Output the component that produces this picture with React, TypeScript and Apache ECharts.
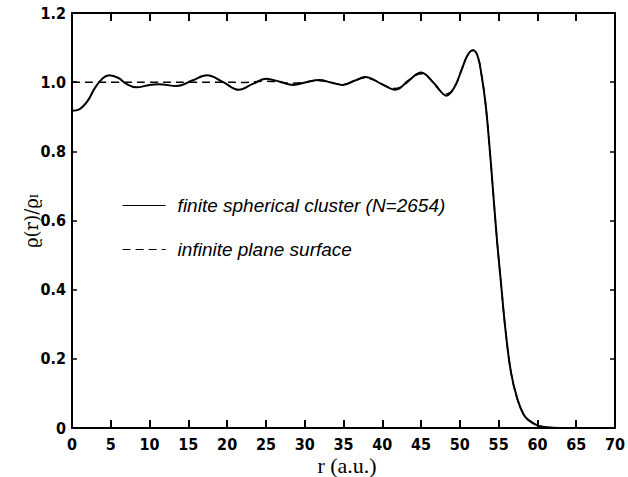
import React, { useEffect, useRef } from "react";
import * as echarts from "echarts";

const rFinite = [0, 1, 2, 3, 4, 4.8, 6, 7, 8.3, 10, 11.2, 13.5, 15.5, 17.4, 19.5, 21.5, 23.3, 25, 26.8, 28.5, 30.2, 31.9, 33.4, 34.9, 36.4, 37.8, 39.8, 41.7, 43.4, 45, 46.7, 48.3, 49.3, 50.3, 51.0, 51.7, 52.3, 52.8, 53.3, 53.8, 54.3, 54.8, 55.3, 55.9, 56.6, 57.4, 58.2, 58.9, 60.2, 62, 64, 70];
const gFinite = [0.917, 0.922, 0.945, 0.985, 1.012, 1.02, 1.012, 0.995, 0.985, 0.992, 0.994, 0.989, 1.005, 1.02, 1.0, 0.978, 0.995, 1.01, 1.001, 0.992, 1.0, 1.006, 0.999, 0.992, 1.004, 1.015, 0.996, 0.978, 1.005, 1.028, 0.996, 0.961, 0.985, 1.04, 1.078, 1.092, 1.075, 1.02, 0.94, 0.82, 0.68, 0.54, 0.42, 0.28, 0.16, 0.085, 0.04, 0.022, 0.006, 0.001, 0, 0];

const rPlane = [0, 5, 10, 15, 20, 22, 25, 28.5, 31.9, 34.9, 37.8, 41.7, 45, 48.3, 49.3, 50.3, 51.0, 51.7, 52.3, 52.8, 53.3, 53.8, 54.3, 54.8, 55.3, 55.9, 56.6, 57.4, 58.2, 58.9, 60.2, 62, 64, 70];
const gPlane = [1.0, 1.0, 1.0, 1.0, 1.0, 0.999, 1.003, 0.997, 1.004, 0.994, 1.012, 0.982, 1.024, 0.966, 0.985, 1.04, 1.078, 1.092, 1.075, 1.02, 0.94, 0.82, 0.68, 0.54, 0.42, 0.28, 0.16, 0.085, 0.04, 0.022, 0.006, 0.001, 0, 0];

const seriesNames = ["finite spherical cluster (N=2654)", "infinite plane surface"];
const xTitle = "r (a.u.)";

const labelFont = {
  fontFamily: "'Liberation Sans Narrow', 'Arial Narrow', 'DejaVu Sans Condensed', sans-serif",
  fontWeight: "bold" as const,
  fontSize: 16,
  color: "#000",
};

export default function App() {
  const ref = useRef<HTMLDivElement>(null);
  useEffect(() => {
    document.body.style.margin = "0";
    if (!ref.current) return;
    const chart = echarts.init(ref.current, undefined, { renderer: "svg" });
    const axisLine = { show: true, onZero: false, lineStyle: { color: "#000", width: 2 } };
    const xTick = { show: true, inside: true, length: 8, lineStyle: { color: "#000", width: 2 } };
    const yTick = { show: true, inside: true, length: 5, lineStyle: { color: "#000", width: 1.5 } };
    chart.setOption({
      animation: false,
      backgroundColor: "#fff",
      grid: { left: 72, right: 8, top: 13, bottom: 49, containLabel: false },
      legend: {
        orient: "vertical",
        left: 122,
        top: 196,
        padding: 0,
        itemWidth: 43,
        itemHeight: 14,
        itemGap: 25,
        selectedMode: false,
        itemStyle: { opacity: 0 },
        lineStyle: { width: 1.2 },
        textStyle: {
          fontFamily: "'Liberation Sans', Arial, sans-serif",
          fontStyle: "italic",
          fontSize: 19,
          lineHeight: 18,
          color: "#000",
          padding: [0, 0, 0, 7],
        },
        data: seriesNames,
      },
      xAxis: [
        {
          type: "value",
          min: 0,
          max: 70,
          interval: 5,
          position: "bottom",
          axisLine,
          axisTick: xTick,
          axisLabel: { ...labelFont, margin: 8 },
          splitLine: { show: false },
        },
        {
          type: "value",
          min: 0,
          max: 70,
          interval: 5,
          position: "top",
          axisLine,
          axisTick: xTick,
          axisLabel: { show: false },
          splitLine: { show: false },
        },
      ],
      yAxis: [
        {
          type: "value",
          min: 0,
          max: 1.2,
          interval: 0.2,
          position: "left",
          axisLine,
          axisTick: yTick,
          axisLabel: {
            ...labelFont,
            margin: 6,
            formatter: (v: number) => (v === 0 ? "0" : v.toFixed(1)),
          },
          splitLine: { show: false },
        },
        {
          type: "value",
          min: 0,
          max: 1.2,
          interval: 0.2,
          position: "right",
          axisLine,
          axisTick: yTick,
          axisLabel: { show: false },
          splitLine: { show: false },
        },
      ],
      series: [
        {
          name: seriesNames[0],
          type: "line",
          data: rFinite.map((r, i) => [r, gFinite[i]]),
          symbol: "none",
          smooth: 0.4,
          lineStyle: { color: "#000", width: 2 },
          itemStyle: { color: "#000" },
          z: 3,
        },
        {
          name: seriesNames[1],
          type: "line",
          data: rPlane.map((r, i) => [r, gPlane[i]]),
          symbol: "none",
          smooth: 0.4,
          lineStyle: { color: "#000", width: 1.5, type: [8, 5] },
          itemStyle: { color: "#000" },
          z: 2,
        },
      ],
      graphic: [
        {
          type: "text",
          x: 347,
          y: 465,
          style: {
            text: xTitle,
            fontFamily: "'Liberation Serif', 'DejaVu Serif', serif",
            fontSize: 22,
            fill: "#000",
            align: "center",
            verticalAlign: "middle",
          },
        },
        {
          type: "text",
          x: 16,
          y: 248,
          rotation: Math.PI / 2,
          style: {
            text: "{a|ϱ(r)/ϱ}{b|I}",
            rich: {
              a: { fontFamily: "'DejaVu Serif', serif", fontSize: 18, fill: "#000", lineHeight: 24, verticalAlign: "bottom" },
              b: { fontFamily: "'DejaVu Serif', serif", fontSize: 11, fill: "#000", lineHeight: 16, verticalAlign: "bottom" },
            },
          },
        },
      ],
    });
    return () => chart.dispose();
  }, []);
  return <div ref={ref} style={{ width: 628, height: 477 }} />;
}
